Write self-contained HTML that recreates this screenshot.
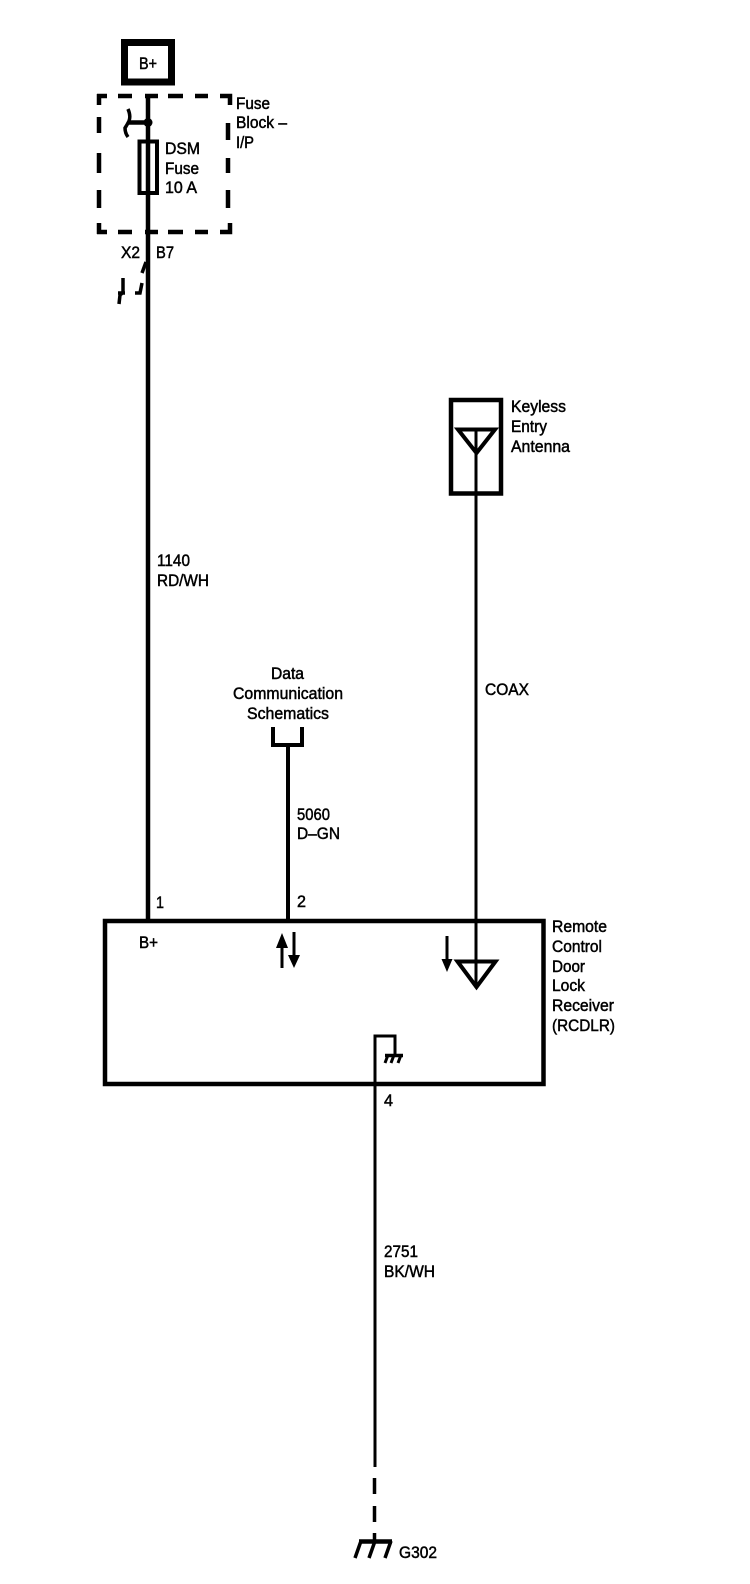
<!DOCTYPE html>
<html><head><meta charset="utf-8"><style>
html,body{margin:0;padding:0;background:#fff}
svg{display:block}
text{font-family:"Liberation Sans",sans-serif;font-size:17px;fill:#000;stroke:#000;stroke-width:.5}
</style></head><body>
<svg width="750" height="1584" viewBox="0 0 750 1584" xmlns="http://www.w3.org/2000/svg">
<rect width="750" height="1584" fill="#fff"/>
<g fill="none" stroke="#000">
<rect x="124.500" y="42.500" width="47" height="39.500" stroke-width="7"/>
<g stroke-width="4.500">
<path d="M97 96H107M118 96H132M145 96H158M168 96H183M195 96H208M220 96H230V105"/>
<path d="M99 94V105M99 117V133M99 153V173M99 190V208M99 223V234M97 232H107M118 232H132M145 232H158M168 232H183M195 232H208M220 232H230V223"/>
<path d="M228 123V140M228 158V173M228 190V208"/>
<path d="M148 96V920"/>
<path d="M148 122.500H129"/>
</g>
<circle cx="148" cy="122.500" r="4.500" fill="#000" stroke="none"/>
<path d="M128 109Q131 116 129 121Q127 125 125 128Q125 133 128 137" stroke-width="3.500"/>
<rect x="139.500" y="141.500" width="17.500" height="51.500" stroke-width="4"/>
<path d="M146 262L142 273" stroke-width="3.500"/>
<path d="M142 283L140 293H135" stroke-width="3.500"/>
<path d="M123 278V291Q123 293 120 295L119 304M118 293H125" stroke-width="3.500"/>

<rect x="451" y="400" width="50" height="93.500" stroke-width="4.500"/>
<path d="M458 429.500H495L476.500 453Z" stroke-width="4"/>
<path d="M476 429V988" stroke-width="3"/>

<path d="M273 727V745H302V727M288 745V920" stroke-width="4"/>

<rect x="105" y="921" width="438.500" height="163" stroke-width="4.500"/>
<path d="M457.500 961.500H495.500L476.500 987Z" stroke-width="4"/>
<path d="M282 968V945M294 932V956M447 936V960" stroke-width="3"/>

<path d="M375 1467V1036H395V1054" stroke-width="3"/>
<path d="M385 1055.500H403" stroke-width="3.500"/>
<path d="M388 1055L385 1063M394 1055L391 1063M401 1055L398 1063" stroke-width="3"/>
<path d="M374.500 1478V1494M374.500 1506V1522M374.500 1533V1541" stroke-width="3.500"/>
<path d="M359 1541.500H392" stroke-width="4.500"/>
<path d="M361 1541L355 1558M375 1541L369 1558M391 1541L385 1558" stroke-width="3.500"/>
</g>
<g fill="#000">
<path d="M282 933L276 948H288Z"/>
<path d="M294 968L288 955H300Z"/>
<path d="M447 972L441.500 959H452.500Z"/>
</g>
<text x="139" y="69" textLength="18" lengthAdjust="spacingAndGlyphs">B+</text>
<text x="236" y="109" textLength="34" lengthAdjust="spacingAndGlyphs">Fuse</text>
<text x="236" y="128" textLength="51" lengthAdjust="spacingAndGlyphs">Block –</text>
<text x="236" y="148" textLength="18" lengthAdjust="spacingAndGlyphs">I/P</text>
<text x="165" y="154" textLength="35" lengthAdjust="spacingAndGlyphs">DSM</text>
<text x="165" y="174" textLength="34" lengthAdjust="spacingAndGlyphs">Fuse</text>
<text x="165" y="193" textLength="32" lengthAdjust="spacingAndGlyphs">10 A</text>
<text x="121" y="258" textLength="19" lengthAdjust="spacingAndGlyphs">X2</text>
<text x="156" y="258" textLength="18" lengthAdjust="spacingAndGlyphs">B7</text>
<text x="157" y="566" textLength="33" lengthAdjust="spacingAndGlyphs">1140</text>
<text x="157" y="586" textLength="52" lengthAdjust="spacingAndGlyphs">RD/WH</text>
<text x="511" y="412" textLength="55" lengthAdjust="spacingAndGlyphs">Keyless</text>
<text x="511" y="432" textLength="36" lengthAdjust="spacingAndGlyphs">Entry</text>
<text x="511" y="452" textLength="59" lengthAdjust="spacingAndGlyphs">Antenna</text>
<text x="485" y="695" textLength="44" lengthAdjust="spacingAndGlyphs">COAX</text>
<text x="271" y="679" textLength="33" lengthAdjust="spacingAndGlyphs">Data</text>
<text x="233" y="699" textLength="110" lengthAdjust="spacingAndGlyphs">Communication</text>
<text x="247" y="719" textLength="82" lengthAdjust="spacingAndGlyphs">Schematics</text>
<text x="297" y="820" textLength="33" lengthAdjust="spacingAndGlyphs">5060</text>
<text x="297" y="839" textLength="43" lengthAdjust="spacingAndGlyphs">D–GN</text>
<text x="156" y="908" textLength="8" lengthAdjust="spacingAndGlyphs">1</text>
<text x="297" y="907" textLength="9" lengthAdjust="spacingAndGlyphs">2</text>
<text x="139" y="948" textLength="19" lengthAdjust="spacingAndGlyphs">B+</text>
<text x="552" y="932" textLength="55" lengthAdjust="spacingAndGlyphs">Remote</text>
<text x="552" y="952" textLength="50" lengthAdjust="spacingAndGlyphs">Control</text>
<text x="552" y="972" textLength="33" lengthAdjust="spacingAndGlyphs">Door</text>
<text x="552" y="991" textLength="33" lengthAdjust="spacingAndGlyphs">Lock</text>
<text x="552" y="1011" textLength="62" lengthAdjust="spacingAndGlyphs">Receiver</text>
<text x="552" y="1031" textLength="63" lengthAdjust="spacingAndGlyphs">(RCDLR)</text>
<text x="384" y="1106" textLength="9" lengthAdjust="spacingAndGlyphs">4</text>
<text x="384" y="1257" textLength="34" lengthAdjust="spacingAndGlyphs">2751</text>
<text x="384" y="1277" textLength="51" lengthAdjust="spacingAndGlyphs">BK/WH</text>
<text x="399" y="1558" textLength="38" lengthAdjust="spacingAndGlyphs">G302</text>
</svg>
</body></html>
